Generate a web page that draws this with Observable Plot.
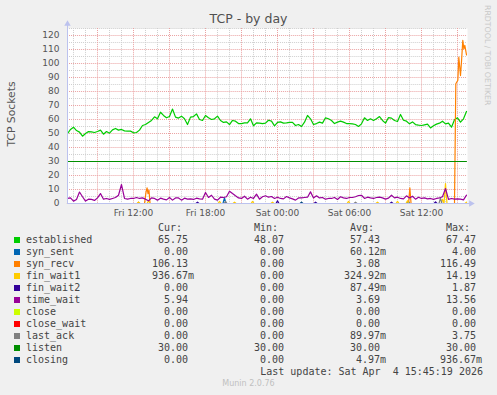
<!DOCTYPE html>
<html><head><meta charset="utf-8">
<script src="https://cdn.jsdelivr.net/npm/d3@7"></script>
<script src="https://cdn.jsdelivr.net/npm/@observablehq/plot@0.6"></script>
<style>
html,body{margin:0;padding:0;background:#f0f0f0;}
#wrap{position:relative;width:497px;height:395px;background:#f0f0f0;overflow:hidden;font-family:"DejaVu Sans",sans-serif;}
#chart{position:absolute;left:0;top:0;}
.t{position:absolute;white-space:pre;line-height:12px;}
.m{font-family:"DejaVu Sans Mono",monospace;font-size:10px;color:#444;}
</style></head><body><div id="wrap"><div id="chart"></div></div>
<script>
// ---- time axis (hours since Fri 00:00) ----
const startHour = 6.5;      // first sample
const stepHours = 0.25;     // 15-minute samples
const lastHour = 39.75;     // Sat 15:45 (last update)
const xDomain = [6.5, 6.5 + 400 / 12];
const xTicks = [12, 18, 24, 30, 36];
const xTickLabels = ["Fri 12:00", "Fri 18:00", "Sat 00:00", "Sat 06:00", "Sat 12:00"];
const yTicks = [0, 10, 20, 30, 40, 50, 60, 70, 80, 90, 100, 110, 120];

// ---- regularly sampled series ----
const established = [
  49.8, 52.9, 54.5, 52.1, 51, 48.07, 50, 51.4, 51.2, 50.7, 51.4, 52.4, 49.5, 51.4, 50.2, 52.6, 53.6, 52.4, 52.9, 51.9,
  51.7, 51.7, 50.5, 50.7, 52.4, 55.7, 56.4, 57.9, 59.3, 61.9, 60.5, 65.2, 62.9, 61.2,
  62.1, 67.47, 61.7, 61, 62.4, 60.5, 56.4, 61.7, 62.1, 64, 60, 59.3, 62.9, 61.2, 60, 60.5, 62.4, 59.3, 57.9, 58.3,
  56.4, 59.3, 58.8, 57.1, 57.1, 57.6, 57.6, 60.5, 55.5, 57.6, 57.4, 57.1, 57.4, 59.5,
  58.8, 55.5, 57.9, 58.3, 57.4, 57.6, 57.9, 57.9, 55.7, 56.4, 55, 58.1, 62.9, 60.5, 56.4, 57.1, 58.1, 57.4, 61.2, 60.5,
  59.3, 57.1, 58.1, 58.8, 58.1, 57.1, 57.1, 56.9, 56.4, 55, 56.9, 61.2, 59.3, 60.5,
  59.3, 60.5, 62.1, 59.3, 57.4, 61.4, 61, 59.3, 58.6, 63.6, 59.5, 58.8, 56.9, 58.3, 56.4, 56, 55.7, 56.2, 56.7, 54,
  55.5, 56.7, 57.4, 58.8, 56.9, 57.4, 54.5, 59.8, 61.2, 58.1, 60.5, 65.75
];
const timeWait = [
  3.6, 4.0, 1.7, 2.9, 8.2, 4.8, 1.7, 3.1, 2.9, 2.2, 4.0, 7.1, 3.1, 3.6, 2.9, 3.6, 4.3, 5.9, 13.56, 3.6,
  3.1, 3.6, 3.6, 4.3, 3.6, 4.0, 3.1, 1.9, 4.0, 3.6, 2.4, 3.8, 3.1, 2.6,
  4.3, 2.4, 4.0, 4.0, 2.4, 3.8, 3.1, 3.3, 2.9, 3.8, 3.3, 3.1, 7.9, 4.3, 5.9, 3.1, 2.4, 4.5, 4.3, 4.8,
  8.8, 7.1, 5.5, 4.0, 3.6, 5.2, 3.1, 4.5, 3.6, 6.7, 3.1, 4.8, 5.5,
  4.5, 5.0, 3.6, 4.5, 3.6, 3.3, 5.0, 4.0, 3.3, 2.4, 4.0, 4.0, 4.3, 4.5, 8.3, 4.0, 5.5, 4.0, 4.3, 3.1,
  3.6, 3.6, 4.3, 2.9, 4.8, 4.0, 3.6, 4.3, 4.3, 4.8, 5.7, 5.9, 3.6, 4.5, 4.0,
  3.6, 4.3, 4.5, 4.0, 3.1, 3.8, 5.9, 4.0, 4.5, 3.6, 3.3, 5.5, 4.0, 5.2, 3.1, 4.5, 3.6, 4.0, 3.3, 3.6,
  2.9, 3.6, 4.0, 4.8, 10.7, 2.9, 3.6, 3.1, 3.3, 3.1, 2.6, 5.94
];

// ---- irregular series (hour, value) ----
const synRecvHours  = [6.5, 12.33, 12.42, 12.5, 12.92, 13.04, 13.13, 13.21, 13.29, 13.38, 34.92, 35.03, 35.13, 38.75, 38.86, 39.03, 39.11, 39.25, 39.33, 39.44, 39.53, 39.61, 39.75];
const synRecvValues = [0, 0, 1.0, 0, 0, 8, 11.2, 7, 9.5, 0, 0, 11.2, 0, 0, 85.5, 88, 104.5, 91.4, 100.9, 116.49, 110.5, 113, 106.13];
const listenHours = [6.5, 39.75];
const listenValues = [30, 30];
const zeroHours = [6.5, 39.75];
const zeroValues = [0, 0];

// ---- small bumps above zero (hour, peak value) ----
const finWait1Hours  = [12.42, 13.25, 19.17, 20.42, 21.92, 23.58, 29.92, 32.33, 34.0, 34.83, 37.75, 38.0, 39.75];
const finWait1Values = [1.0, 2.0, 1.5, 1.0, 1.5, 1.0, 1.5, 1.0, 1.5, 2.0, 3.0, 14.19, 0.94];
const synSentHours  = [19.58, 34.92];
const synSentValues = [4.0, 1.0];
const finWait2Hours  = [17.33, 24.0, 27.17, 33.5, 37.17];
const finWait2Values = [1.0, 1.87, 1.0, 1.0, 1.2];
const lastAckHours  = [19.67, 30.5, 37.58];
const lastAckValues = [1.5, 1.0, 3.75];
const closingHours  = [26.0];
const closingValues = [0.94];

// ---- legend ----
const seriesNames  = ["established","syn_sent","syn_recv","fin_wait1","fin_wait2","time_wait","close","close_wait","last_ack","listen","closing"];
const seriesColors = ["#00CC00","#0066B3","#FF8000","#FFCC00","#330099","#990099","#CCFF00","#FF0000","#808080","#008F00","#00487D"];
const curValues = ["65.75","0.00","106.13","936.67m","0.00","5.94","0.00","0.00","0.00","30.00","0.00"];
const minValues = ["48.07","0.00","0.00","0.00","0.00","0.00","0.00","0.00","0.00","30.00","0.00"];
const avgValues = ["57.43","60.12m","3.08","324.92m","87.49m","3.69","0.00","0.00","89.97m","30.00","4.97m"];
const maxValues = ["67.47","4.00","116.49","14.19","1.87","13.56","0.00","0.00","3.75","30.00","936.67m"];
const columnHeads = ["Cur:","Min:","Avg:","Max:"];
const lastUpdate = "Last update: Sat Apr  4 15:45:19 2026";

// ---- build tables ----
const regular = arr => arr.map((v, i) => ({t: startHour + i * stepHours, v}));
const pairs = (hs, vs) => hs.map((t, i) => ({t, v: vs[i]}));
const bumps = (hs, vs) => {
  const pts = [{t: startHour, v: 0}];
  hs.forEach((t, i) => {
    if (t - 0.125 > startHour) pts.push({t: t - 0.125, v: 0});
    pts.push({t, v: vs[i]});
    if (t + 0.125 <= lastHour) pts.push({t: t + 0.125, v: 0});
  });
  if (pts[pts.length - 1].t < lastHour) pts.push({t: lastHour, v: 0});
  return pts;
};
const seriesData = [
  regular(established),
  bumps(synSentHours, synSentValues),
  pairs(synRecvHours, synRecvValues),
  bumps(finWait1Hours, finWait1Values),
  bumps(finWait2Hours, finWait2Values),
  regular(timeWait),
  pairs(zeroHours, zeroValues),
  pairs(zeroHours, zeroValues),
  bumps(lastAckHours, lastAckValues),
  pairs(listenHours, listenValues),
  bumps(closingHours, closingValues)
];

const majorX = d3.range(9, 40, 3);
const minorX = d3.range(7, 40, 1).filter(h => h % 3 !== 0);
const majorY = d3.range(0, 121, 10);
const minorY = d3.range(5, 126, 10);
const axisColor = "#bcc2ee";
const minorGrid = "#cfcfcf";
const majorGrid = "#eaa0a0";
// dash patterns double as tags so the rule colours can be applied after rendering
const styleByDash = {"1,1.01": minorGrid, "1,1.02": majorGrid, "999,1": axisColor};

const chart = Plot.plot({
  width: 497, height: 232,
  marginTop: 28, marginBottom: 29, marginLeft: 67, marginRight: 30,
  style: {background: "transparent", fontFamily: "DejaVu Sans, sans-serif", fontSize: "9px", color: "#555"},
  x: {domain: xDomain},
  y: {domain: [0, 125]},
  marks: [
    Plot.frame({fill: "white", stroke: null}),
    Plot.ruleX(minorX, {stroke: minorGrid, strokeDasharray: "1,1.01"}),
    Plot.ruleY(minorY, {stroke: minorGrid, strokeDasharray: "1,1.01"}),
    Plot.ruleX(majorX, {stroke: majorGrid, strokeDasharray: "1,1.02"}),
    Plot.ruleY(majorY, {stroke: majorGrid, strokeDasharray: "1,1.02"}),
    Plot.axisY(yTicks, {tickSize: 0, tickPadding: 8, label: null, fill: "#555"}),
    Plot.axisX(xTicks, {tickSize: 0, tickPadding: 6, label: null, fill: "#555",
      tickFormat: d => xTickLabels[xTicks.indexOf(d)]}),
    ...seriesData.map((data, i) => Plot.line(data, {x: "t", y: "v", stroke: seriesColors[i],
      strokeWidth: seriesNames[i] === "listen" ? 1 : 1.2})),
    Plot.ruleY([0], {stroke: axisColor, strokeDasharray: "999,1", insetRight: -4}),
    Plot.ruleX([xDomain[0]], {stroke: axisColor, strokeDasharray: "999,1", insetTop: -4}),
    Plot.dot([0], {frameAnchor: "top-left", symbol: "triangle", r: 2.4, fill: axisColor, stroke: null, dy: -4.5}),
    Plot.dot([0], {frameAnchor: "bottom-right", symbol: "triangle", r: 2.4, fill: axisColor, stroke: null, rotate: 90, dx: 3.5}),
    Plot.text(["TCP Sockets"], {frameAnchor: "left", textAnchor: "middle", rotate: -90, dx: -56, dy: -2, fontSize: 10.8, fill: "#555"})
  ]
});
// apply rule colours (matched through their dash pattern)
chart.querySelectorAll("*").forEach(el => {
  const dash = (el.getAttribute("stroke-dasharray") || "").replace(/\s+/g, "");
  const col = styleByDash[dash];
  if (col) {
    el.style.stroke = col;
    el.querySelectorAll("*").forEach(c => { c.style.stroke = col; });
  }
});
document.getElementById("chart").appendChild(chart);

// ---- HTML text: title, watermark, legend ----
const wrap = document.getElementById("wrap");
function addText(txt, css, cls) {
  const d = document.createElement("div");
  d.className = "t" + (cls ? " " + cls : "");
  d.textContent = txt;
  Object.assign(d.style, css);
  wrap.appendChild(d);
  return d;
}
addText("TCP - by day", {left: "0px", width: "497px", textAlign: "center", top: "11px", fontSize: "12.5px", lineHeight: "15px", color: "#505050"});
addText("RRDTOOL / TOBI OETIKER", {left: "483px", top: "5px", fontSize: "7.8px", lineHeight: "9px", color: "#c8c8c8", writingMode: "vertical-rl"});

const rowTop = i => 221.5 + 12 * i;
const numRight = [188, 284, 380, 476];
columnHeads.forEach((h, c) => addText(h, {right: (497 - numRight[c] + 6) + "px", top: rowTop(0) + "px", textAlign: "right"}, "m"));
const cols = [curValues, minValues, avgValues, maxValues];
seriesNames.forEach((name, i) => {
  const top = rowTop(i + 1);
  const sw = document.createElement("div");
  Object.assign(sw.style, {position: "absolute", left: "14px", top: (top + 3.5) + "px", width: "6px", height: "6px", background: seriesColors[i]});
  wrap.appendChild(sw);
  addText(name, {left: "26px", top: top + "px"}, "m");
  cols.forEach((col, c) => {
    const s = col[i];
    const suf = s.endsWith("m") ? "m" : "";
    const num = suf ? s.slice(0, -1) : s;
    addText(num, {right: (497 - numRight[c]) + "px", top: top + "px", textAlign: "right"}, "m");
    if (suf) addText(suf, {left: numRight[c] + "px", top: top + "px"}, "m");
  });
});
addText(lastUpdate, {right: "14px", top: rowTop(12) + "px", textAlign: "right"}, "m");
addText("Munin 2.0.76", {left: "0px", width: "497px", textAlign: "center", top: "379px", fontSize: "8px", lineHeight: "10px", color: "#c0c0c0"});
</script></body></html>
